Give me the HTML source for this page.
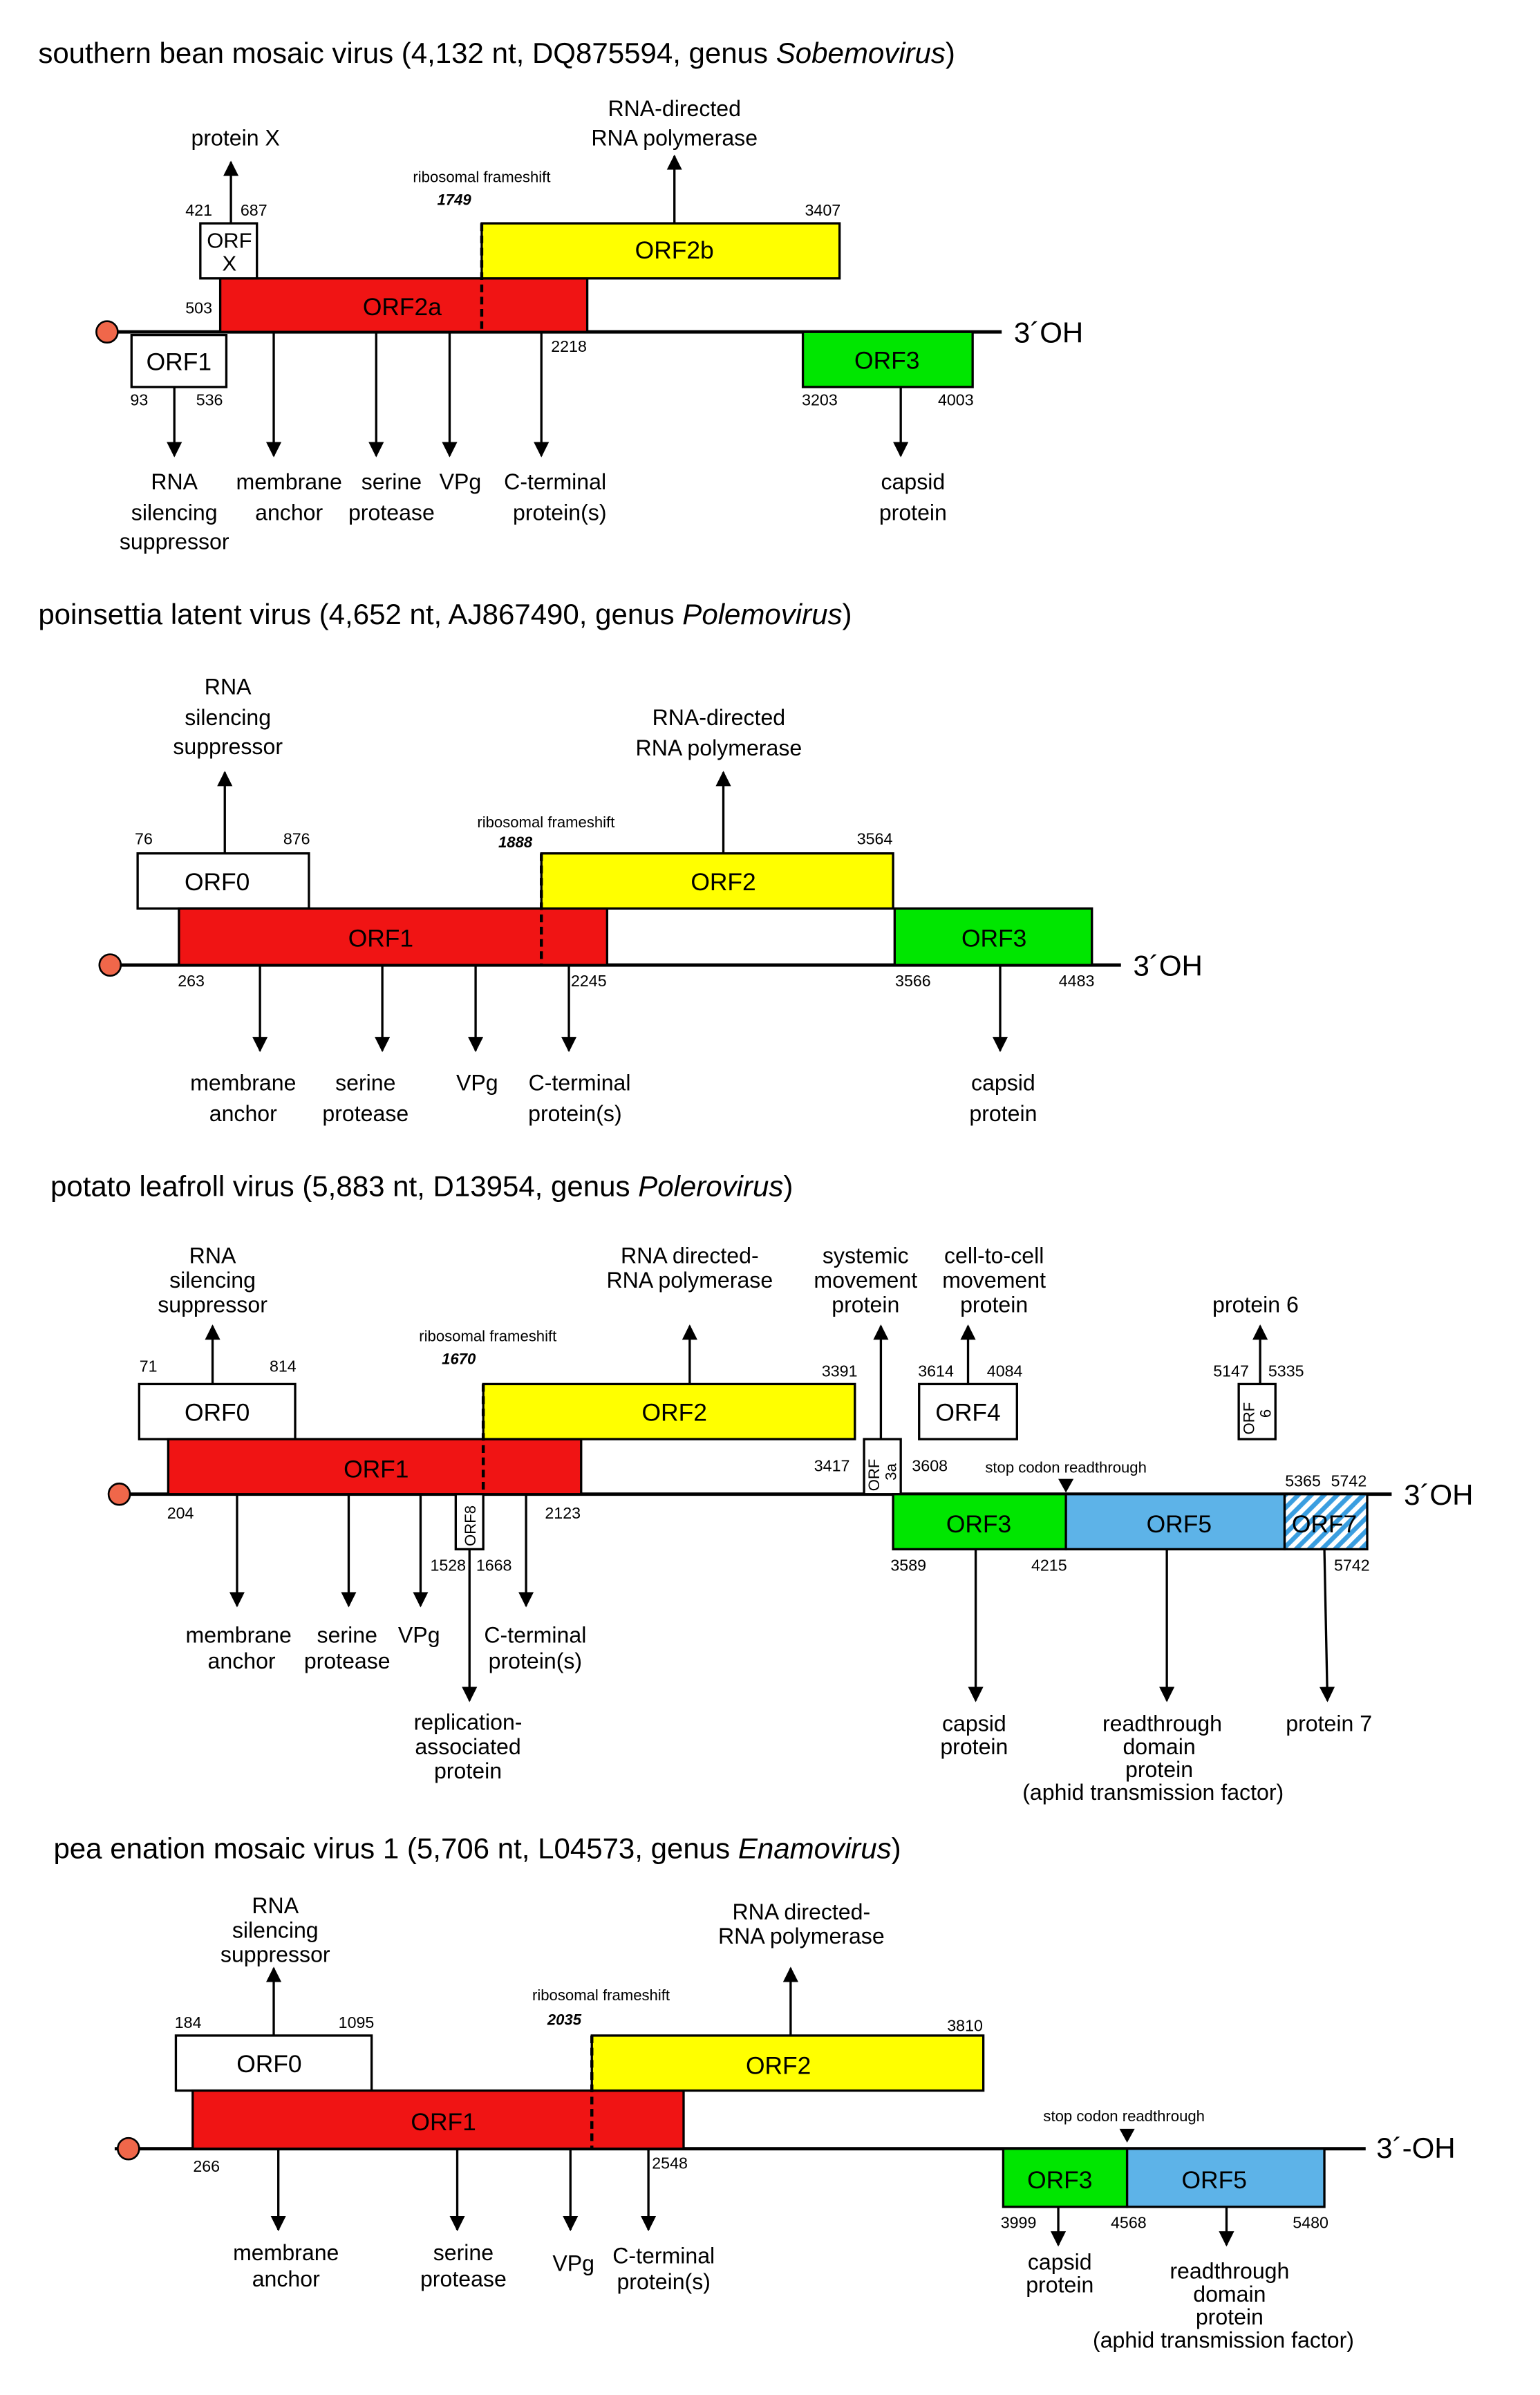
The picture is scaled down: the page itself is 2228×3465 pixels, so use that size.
<!DOCTYPE html>
<html><head><meta charset="utf-8"><style>
html,body{margin:0;padding:0;background:#fff}
svg{display:block}
text{font-family:"Liberation Sans",Arial,sans-serif;fill:#000}
.t{font-size:19px}
.l{font-size:14.5px;text-anchor:middle}
.n{font-size:10.5px;text-anchor:middle}
.b{font-size:16px;text-anchor:middle}
.s{font-size:10px;text-anchor:middle}
.fs{font-size:10px;font-weight:bold;font-style:italic;text-anchor:middle}
.ln{stroke:#000;stroke-width:2.2}
.ar{stroke:#000;stroke-width:1.5;marker-end:url(#ah)}
.bx{stroke:#000;stroke-width:1.5}
.ds{stroke:#000;stroke-width:2;stroke-dasharray:5,3}
.dt{stroke:#000;stroke-width:1;stroke-dasharray:2,2}
</style></head><body>
<svg width="2228" height="3465" viewBox="0 0 1007 1566" xmlns="http://www.w3.org/2000/svg">
<defs>
<marker id="ah" markerWidth="10" markerHeight="12" refX="9" refY="5" orient="auto" markerUnits="userSpaceOnUse"><path d="M0,0 L10,5 L0,10 z" fill="#000"/></marker>
<pattern id="hatch" width="6" height="6" patternUnits="userSpaceOnUse" patternTransform="rotate(45)"><rect width="6" height="6" fill="#fff"/><rect width="3" height="6" fill="#3a9ee0"/></pattern>
</defs>

<!-- Section 1 -->
<text class="t" x="25" y="41">southern bean mosaic virus (4,132 nt, DQ875594, genus <tspan font-style="italic">Sobemovirus</tspan>)</text>
<line class="ln" x1="75" y1="217" x2="655" y2="217"/>
<circle cx="70" cy="217" r="7" fill="#f0674a" stroke="#000" stroke-width="1.2"/>
<text x="663" y="224" style="font-size:19px">3´OH</text>
<rect class="bx" x="144" y="182" width="240" height="35" fill="#f01414"/>
<text class="b" x="263" y="206">ORF2a</text>
<rect class="bx" x="315" y="146" width="234" height="36" fill="#ffff00"/>
<text class="b" x="441" y="169">ORF2b</text>
<rect class="bx" x="131" y="146" width="37" height="36" fill="#fff"/>
<text class="b" x="150" y="162" style="font-size:14px">ORF</text><text class="b" x="150" y="177" style="font-size:14px">X</text>
<rect class="bx" x="86" y="219" width="62" height="34" fill="#fff"/>
<text class="b" x="117" y="242">ORF1</text>
<rect class="bx" x="525" y="217" width="111" height="36" fill="#00e600"/>
<text class="b" x="580" y="241">ORF3</text>
<line class="ds" x1="315" y1="146" x2="315" y2="217"/>
<text class="s" x="315" y="119">ribosomal frameshift</text><text class="fs" x="297" y="134">1749</text>
<line class="ar" x1="151" y1="146" x2="151" y2="106"/><text class="l" x="154" y="95">protein X</text>
<line class="ar" x1="441" y1="146" x2="441" y2="102"/><text class="l" x="441" y="76">RNA-directed</text><text class="l" x="441" y="95">RNA polymerase</text>
<text class="n" x="130" y="141">421</text><text class="n" x="166" y="141">687</text><text class="n" x="538" y="141">3407</text>
<text class="n" x="130" y="205">503</text><text class="n" x="372" y="230">2218</text>
<text class="n" x="91" y="265">93</text><text class="n" x="137" y="265">536</text><text class="n" x="536" y="265">3203</text><text class="n" x="625" y="265">4003</text>
<line class="ar" x1="114" y1="253" x2="114" y2="298"/>
<line class="ar" x1="179" y1="217" x2="179" y2="298"/>
<line class="ar" x1="246" y1="217" x2="246" y2="298"/>
<line class="ar" x1="294" y1="217" x2="294" y2="298"/>
<line class="ar" x1="354" y1="217" x2="354" y2="298"/>
<line class="ar" x1="589" y1="253" x2="589" y2="298"/>
<text class="l" x="114" y="320">RNA</text><text class="l" x="114" y="340">silencing</text><text class="l" x="114" y="359">suppressor</text>
<text class="l" x="189" y="320">membrane</text><text class="l" x="189" y="340">anchor</text>
<text class="l" x="256" y="320">serine</text><text class="l" x="256" y="340">protease</text>
<text class="l" x="301" y="320">VPg</text>
<text class="l" x="363" y="320">C-terminal</text><text class="l" x="366" y="340">protein(s)</text>
<text class="l" x="597" y="320">capsid</text><text class="l" x="597" y="340">protein</text>

<!-- Section 2 -->
<text class="t" x="25" y="408">poinsettia latent virus (4,652 nt, AJ867490, genus <tspan font-style="italic">Polemovirus</tspan>)</text>
<line class="ln" x1="75" y1="631" x2="733" y2="631"/>
<circle cx="72" cy="631" r="7" fill="#f0674a" stroke="#000" stroke-width="1.2"/>
<text x="741" y="638" style="font-size:19px">3´OH</text>
<rect class="bx" x="90" y="558" width="112" height="36" fill="#fff"/><text class="b" x="142" y="582">ORF0</text>
<rect class="bx" x="117" y="594" width="280" height="37" fill="#f01414"/><text class="b" x="249" y="619">ORF1</text>
<rect class="bx" x="354" y="558" width="230" height="36" fill="#ffff00"/><text class="b" x="473" y="582">ORF2</text>
<rect class="bx" x="585" y="594" width="129" height="37" fill="#00e600"/><text class="b" x="650" y="619">ORF3</text>
<line class="ds" x1="354" y1="558" x2="354" y2="631"/>
<text class="s" x="357" y="541">ribosomal frameshift</text><text class="fs" x="337" y="554">1888</text>
<line class="ar" x1="147" y1="558" x2="147" y2="505"/>
<text class="l" x="149" y="454">RNA</text><text class="l" x="149" y="474">silencing</text><text class="l" x="149" y="493">suppressor</text>
<line class="ar" x1="473" y1="558" x2="473" y2="505"/>
<text class="l" x="470" y="474">RNA-directed</text><text class="l" x="470" y="494">RNA polymerase</text>
<text class="n" x="94" y="552">76</text><text class="n" x="194" y="552">876</text><text class="n" x="572" y="552">3564</text>
<text class="n" x="125" y="645">263</text><text class="n" x="385" y="645">2245</text><text class="n" x="597" y="645">3566</text><text class="n" x="704" y="645">4483</text>
<line class="ar" x1="170" y1="631" x2="170" y2="687"/>
<line class="ar" x1="250" y1="631" x2="250" y2="687"/>
<line class="ar" x1="311" y1="631" x2="311" y2="687"/>
<line class="ar" x1="372" y1="631" x2="372" y2="687"/>
<line class="ar" x1="654" y1="631" x2="654" y2="687"/>
<text class="l" x="159" y="713">membrane</text><text class="l" x="159" y="733">anchor</text>
<text class="l" x="239" y="713">serine</text><text class="l" x="239" y="733">protease</text>
<text class="l" x="312" y="713">VPg</text>
<text class="l" x="379" y="713">C-terminal</text><text class="l" x="376" y="733">protein(s)</text>
<text class="l" x="656" y="713">capsid</text><text class="l" x="656" y="733">protein</text>

<!-- Section 3 -->
<text class="t" x="33" y="782">potato leafroll virus (5,883 nt, D13954, genus <tspan font-style="italic">Polerovirus</tspan>)</text>
<line class="ln" x1="75" y1="977" x2="910" y2="977"/>
<circle cx="78" cy="977" r="7" fill="#f0674a" stroke="#000" stroke-width="1.2"/>
<text x="918" y="984" style="font-size:19px">3´OH</text>
<rect class="bx" x="91" y="905" width="102" height="36" fill="#fff"/><text class="b" x="142" y="929">ORF0</text>
<rect class="bx" x="110" y="941" width="270" height="36" fill="#f01414"/><text class="b" x="246" y="966">ORF1</text>
<rect class="bx" x="316" y="905" width="243" height="36" fill="#ffff00"/><text class="b" x="441" y="929">ORF2</text>
<line class="ds" x1="316" y1="905" x2="316" y2="977"/>
<text class="s" x="319" y="877">ribosomal frameshift</text><text class="fs" x="300" y="892">1670</text>
<rect class="bx" x="298" y="977" width="18" height="36" fill="#fff"/>
<text style="font-size:10px" transform="translate(311,1011) rotate(-90)">ORF8</text>
<rect class="bx" x="565" y="941" width="24" height="36" fill="#fff"/>
<text style="font-size:10px" transform="translate(575,975) rotate(-90)">ORF</text><text style="font-size:10px" transform="translate(586,968) rotate(-90)">3a</text>
<rect class="bx" x="601" y="905" width="64" height="36" fill="#fff"/><text class="b" x="633" y="929">ORF4</text>
<rect class="bx" x="810" y="905" width="24" height="36" fill="#fff"/>
<text style="font-size:10px" transform="translate(820,938) rotate(-90)">ORF</text><text style="font-size:10px" transform="translate(831,927) rotate(-90)">6</text>
<rect class="bx" x="584" y="977" width="113" height="36" fill="#00e600"/><text class="b" x="640" y="1002">ORF3</text>
<rect class="bx" x="697" y="977" width="143" height="36" fill="#5db3e8"/><text class="b" x="771" y="1002">ORF5</text>
<rect class="bx" x="840" y="977" width="54" height="36" fill="url(#hatch)"/><text class="b" x="866" y="1002">ORF7</text>
<line class="dt" x1="697" y1="977" x2="697" y2="1013" stroke="#fff"/>
<text class="s" x="697" y="963">stop codon readthrough</text>
<path d="M692,967 L702,967 L697,976 z" fill="#000"/>
<line class="ar" x1="139" y1="905" x2="139" y2="867"/>
<text class="l" x="139" y="826">RNA</text><text class="l" x="139" y="842">silencing</text><text class="l" x="139" y="858">suppressor</text>
<line class="ar" x1="451" y1="905" x2="451" y2="867"/>
<text class="l" x="451" y="826">RNA directed-</text><text class="l" x="451" y="842">RNA polymerase</text>
<line class="ar" x1="576" y1="941" x2="576" y2="867"/>
<text class="l" x="566" y="826">systemic</text><text class="l" x="566" y="842">movement</text><text class="l" x="566" y="858">protein</text>
<line class="ar" x1="633" y1="905" x2="633" y2="867"/>
<text class="l" x="650" y="826">cell-to-cell</text><text class="l" x="650" y="842">movement</text><text class="l" x="650" y="858">protein</text>
<line class="ar" x1="824" y1="905" x2="824" y2="867"/>
<text class="l" x="821" y="858">protein 6</text>
<text class="n" x="97" y="897">71</text><text class="n" x="185" y="897">814</text><text class="n" x="549" y="900">3391</text>
<text class="n" x="612" y="900">3614</text><text class="n" x="657" y="900">4084</text>
<text class="n" x="805" y="900">5147</text><text class="n" x="841" y="900">5335</text>
<text class="n" x="544" y="962">3417</text><text class="n" x="608" y="962">3608</text>
<text class="n" x="852" y="972">5365</text><text class="n" x="882" y="972">5742</text>
<text class="n" x="118" y="993">204</text><text class="n" x="368" y="993">2123</text>
<text class="n" x="293" y="1027">1528</text><text class="n" x="323" y="1027">1668</text>
<text class="n" x="594" y="1027">3589</text><text class="n" x="686" y="1027">4215</text><text class="n" x="884" y="1027">5742</text>
<line class="ar" x1="155" y1="977" x2="155" y2="1050"/>
<line class="ar" x1="228" y1="977" x2="228" y2="1050"/>
<line class="ar" x1="275" y1="977" x2="275" y2="1050"/>
<line class="ar" x1="307" y1="1013" x2="307" y2="1112"/>
<line class="ar" x1="344" y1="977" x2="344" y2="1050"/>
<line class="ar" x1="638" y1="1013" x2="638" y2="1112"/>
<line class="ar" x1="763" y1="1013" x2="763" y2="1112"/>
<line class="ar" x1="866" y1="1013" x2="868" y2="1112"/>
<text class="l" x="156" y="1074">membrane</text><text class="l" x="158" y="1091">anchor</text>
<text class="l" x="227" y="1074">serine</text><text class="l" x="227" y="1091">protease</text>
<text class="l" x="274" y="1074">VPg</text>
<text class="l" x="350" y="1074">C-terminal</text><text class="l" x="350" y="1091">protein(s)</text>
<text class="l" x="306" y="1131">replication-</text><text class="l" x="306" y="1147">associated</text><text class="l" x="306" y="1163">protein</text>
<text class="l" x="637" y="1132">capsid</text><text class="l" x="637" y="1147">protein</text>
<text class="l" x="760" y="1132">readthrough</text><text class="l" x="758" y="1147">domain</text><text class="l" x="758" y="1162">protein</text><text class="l" x="754" y="1177">(aphid transmission factor)</text>
<text class="l" x="869" y="1132">protein 7</text>

<!-- Section 4 -->
<text class="t" x="35" y="1215">pea enation mosaic virus 1 (5,706 nt, L04573, genus <tspan font-style="italic">Enamovirus</tspan>)</text>
<line class="ln" x1="75" y1="1405" x2="893" y2="1405"/>
<circle cx="84" cy="1405" r="7" fill="#f0674a" stroke="#000" stroke-width="1.2"/>
<text x="900" y="1411" style="font-size:19px">3´-OH</text>
<rect class="bx" x="115" y="1331" width="128" height="36" fill="#fff"/><text class="b" x="176" y="1355">ORF0</text>
<rect class="bx" x="126" y="1367" width="321" height="38" fill="#f01414"/><text class="b" x="290" y="1393">ORF1</text>
<rect class="bx" x="387" y="1331" width="256" height="36" fill="#ffff00"/><text class="b" x="509" y="1356">ORF2</text>
<line class="ds" x1="387" y1="1331" x2="387" y2="1405"/>
<text class="s" x="393" y="1308">ribosomal frameshift</text><text class="fs" x="369" y="1324">2035</text>
<rect class="bx" x="656" y="1405" width="81" height="38" fill="#00e600"/><text class="b" x="693" y="1431">ORF3</text>
<rect class="bx" x="737" y="1405" width="129" height="38" fill="#5db3e8"/><text class="b" x="794" y="1431">ORF5</text>
<line class="dt" x1="737" y1="1405" x2="737" y2="1443" stroke="#fff"/>
<text class="s" x="735" y="1387">stop codon readthrough</text>
<path d="M732,1392 L742,1392 L737,1401 z" fill="#000"/>
<line class="ar" x1="179" y1="1331" x2="179" y2="1287"/>
<text class="l" x="180" y="1251">RNA</text><text class="l" x="180" y="1267">silencing</text><text class="l" x="180" y="1283">suppressor</text>
<line class="ar" x1="517" y1="1331" x2="517" y2="1287"/>
<text class="l" x="524" y="1255">RNA directed-</text><text class="l" x="524" y="1271">RNA polymerase</text>
<text class="n" x="123" y="1326">184</text><text class="n" x="233" y="1326">1095</text><text class="n" x="631" y="1328">3810</text>
<text class="n" x="135" y="1420">266</text><text class="n" x="438" y="1418">2548</text>
<text class="n" x="666" y="1457">3999</text><text class="n" x="738" y="1457">4568</text><text class="n" x="857" y="1457">5480</text>
<line class="ar" x1="182" y1="1405" x2="182" y2="1458"/>
<line class="ar" x1="299" y1="1405" x2="299" y2="1458"/>
<line class="ar" x1="373" y1="1405" x2="373" y2="1458"/>
<line class="ar" x1="424" y1="1405" x2="424" y2="1458"/>
<line class="ar" x1="692" y1="1443" x2="692" y2="1468"/>
<line class="ar" x1="802" y1="1443" x2="802" y2="1468"/>
<text class="l" x="187" y="1478">membrane</text><text class="l" x="187" y="1495">anchor</text>
<text class="l" x="303" y="1478">serine</text><text class="l" x="303" y="1495">protease</text>
<text class="l" x="375" y="1485">VPg</text>
<text class="l" x="434" y="1480">C-terminal</text><text class="l" x="434" y="1497">protein(s)</text>
<text class="l" x="693" y="1484">capsid</text><text class="l" x="693" y="1499">protein</text>
<text class="l" x="804" y="1490">readthrough</text><text class="l" x="804" y="1505">domain</text><text class="l" x="804" y="1520">protein</text><text class="l" x="800" y="1535">(aphid transmission factor)</text>
</svg>
</body></html>
